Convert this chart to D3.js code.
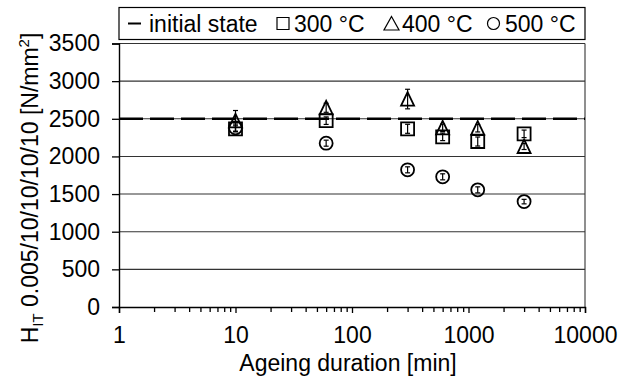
<!DOCTYPE html>
<html><head><meta charset="utf-8">
<script src="https://cdn.jsdelivr.net/npm/d3@7"></script>
<style>body{margin:0;background:#fff}svg{display:block}text{font-family:"Liberation Sans",Arial,sans-serif;fill:#000}</style>
</head><body>
<svg id="c" width="627" height="379"></svg>
<script>
const durations = [10, 60, 300, 600, 1200, 3000];
const initialState = 2500;
const s300 = [2367, 2475, 2367, 2260, 2198, 2300];
const e300 = [40, 50, 60, 50, 60, 50];
const s400 = [2473, 2646, 2762, 2380, 2375, 2132];
const e400 = [137, 60, 130, 50, 50, 40];
const s500 = [2380, 2176, 1822, 1729, 1556, 1400];
const e500 = [50, 40, 40, 40, 40, 30];
const xTicks = [1, 10, 100, 1000, 10000];
const yTicks = [0, 500, 1000, 1500, 2000, 2500, 3000, 3500];

const svg = d3.select("#c");
const L = 119, R = 585, T = 43.5, B = 307;
const x = d3.scaleLog().domain([1, 10000]).range([L, R]);
const y = d3.scaleLinear().domain([0, 3500]).range([B, T]);
const fs = 23;

// gridlines
svg.append("g").selectAll("line").data(yTicks.filter(d => d > 0)).join("line")
  .attr("x1", L).attr("x2", R).attr("y1", d => y(d)).attr("y2", d => y(d))
  .attr("stroke", "#333").attr("stroke-width", 1.1);
// right frame
svg.append("line").attr("x1", R).attr("x2", R).attr("y1", T).attr("y2", B)
  .attr("stroke", "#333").attr("stroke-width", 1.1);

// initial state dashed line
svg.append("line").attr("x1", L).attr("x2", R)
  .attr("y1", y(initialState)).attr("y2", y(initialState))
  .attr("stroke", "#000").attr("stroke-width", 2.6).attr("stroke-dasharray", "24,7");

// axes
const yAxis = svg.append("g").attr("transform", `translate(${L},0)`)
  .call(d3.axisLeft(y).tickValues(yTicks).tickSize(7).tickPadding(12).tickFormat(d3.format("d")));
const minor = [];
for (let dec = 1; dec < 10000; dec *= 10) for (let k = 1; k <= 9; k++) minor.push(dec * k);
minor.push(10000);
const xAxis = svg.append("g").attr("transform", `translate(0,${B})`)
  .call(d3.axisBottom(x).tickValues(minor).tickSize(6).tickPadding(14)
    .tickFormat(d => xTicks.includes(d) ? String(d) : ""));
[yAxis, xAxis].forEach(g => {
  g.select(".domain").attr("stroke", "#000").attr("stroke-width", 1.4);
  g.selectAll(".tick line").attr("stroke", "#000").attr("stroke-width", 1.3);
  g.selectAll("text").attr("font-size", fs).attr("font-family", "Liberation Sans, Arial, sans-serif").attr("fill", "#000");
});
xAxis.selectAll(".tick line").attr("y2", d => xTicks.includes(d) ? 6 : 5);

// error bars + markers
function series(vals, errs, shape) {
  const g = svg.append("g");
  const data = durations.map((d, i) => ({d, v: vals[i], e: errs[i]}));
  g.selectAll("line.eb").data(data).join("line").attr("class", "eb")
    .attr("x1", p => x(p.d)).attr("x2", p => x(p.d))
    .attr("y1", p => y(p.v - p.e)).attr("y2", p => y(p.v + p.e))
    .attr("stroke", "#000").attr("stroke-width", 1.2);
  g.selectAll("g.cap").data(data).join("g").attr("class", "cap").each(function(p) {
    [p.v - p.e, p.v + p.e].forEach(v => d3.select(this).append("line")
      .attr("x1", x(p.d) - 2.5).attr("x2", x(p.d) + 2.5).attr("y1", y(v)).attr("y2", y(v))
      .attr("stroke", "#000").attr("stroke-width", 1.2));
  });
  g.selectAll("path.m").data(data).join("path").attr("class", "m")
    .attr("transform", p => `translate(${x(p.d)},${y(p.v)})`)
    .attr("d", shape).attr("fill", "none").attr("stroke", "#000").attr("stroke-width", 1.8);
}
const sq = "M-6.5,-6.5H6.5V6.5H-6.5Z";
const tri = "M0,-7L6.5,6.5H-6.5Z";
const circ = d3.symbol(d3.symbolCircle, Math.PI * 6.5 * 6.5)();
series(s500, e500, circ);
series(s300, e300, sq);
series(s400, e400, tri);

// legend
const lg = svg.append("g");
lg.append("rect").attr("x", L).attr("y", 7.5).attr("width", R - L).attr("height", 32)
  .attr("fill", "#fff").attr("stroke", "#000").attr("stroke-width", 1.2);
const ly = 23.5, lb = 31.5;
lg.append("line").attr("x1", 128).attr("x2", 141).attr("y1", ly).attr("y2", ly).attr("stroke", "#000").attr("stroke-width", 2);
lg.append("text").attr("x", 149).attr("y", lb).attr("font-size", fs).text("initial state");
lg.append("path").attr("transform", `translate(283,${ly})`).attr("d", "M-6,-6H6V6H-6Z").attr("fill", "none").attr("stroke", "#000").attr("stroke-width", 1.2);
lg.append("text").attr("x", 294).attr("y", lb).attr("font-size", fs).text("300 °C");
lg.append("path").attr("transform", `translate(391.5,${ly})`).attr("d", "M0,-7L7.5,6.5H-7.5Z").attr("fill", "none").attr("stroke", "#000").attr("stroke-width", 1.2);
lg.append("text").attr("x", 402).attr("y", lb).attr("font-size", fs).text("400 °C");
lg.append("circle").attr("cx", 493.5).attr("cy", ly).attr("r", 6).attr("fill", "none").attr("stroke", "#000").attr("stroke-width", 1.2);
lg.append("text").attr("x", 505).attr("y", lb).attr("font-size", fs).text("500 °C");

// axis titles
svg.append("text").attr("x", 348).attr("y", 371).attr("text-anchor", "middle")
  .attr("font-size", fs).text("Ageing duration [min]");
const yt = svg.append("text").attr("transform", `translate(38,188) rotate(-90)`)
  .attr("text-anchor", "middle").attr("font-size", fs);
yt.append("tspan").text("H");
yt.append("tspan").attr("font-size", 15).attr("dy", 5).text("IT");
yt.append("tspan").attr("dy", -5).text(" 0.005/10/10/10/10 [N/mm");
yt.append("tspan").attr("font-size", 15).attr("dy", -9).text("2");
yt.append("tspan").attr("dy", 9).text("]");
</script>
</body></html>
